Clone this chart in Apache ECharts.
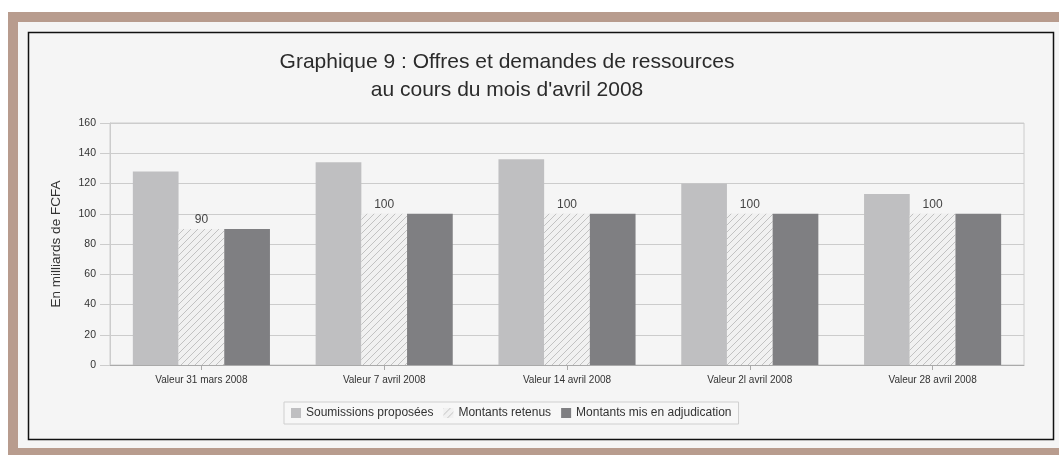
<!DOCTYPE html>
<html>
<head>
<meta charset="utf-8">
<script src="https://cdn.jsdelivr.net/npm/echarts@6/dist/echarts.min.js"></script>
<style>
  html, body { margin: 0; padding: 0; background: #ffffff; }
  #chart { width: 1059px; height: 455px; }
</style>
</head>
<body>
<div id="chart"></div>
<script>
var categories = ['Valeur 31 mars 2008', 'Valeur 7 avril 2008', 'Valeur 14 avril 2008', 'Valeur 2l avril 2008', 'Valeur 28 avril 2008'];
var soumissions = [128, 134, 136, 120, 113];
var retenus = [90, 100, 100, 100, 100];
var adjudication = [90, 100, 100, 100, 100];
var yTicks = [0, 20, 40, 60, 80, 100, 120, 140, 160];

// hatch pattern for "Montants retenus"
function makeHatch() {
  var c = document.createElement('canvas');
  c.width = 7; c.height = 7;
  var ctx = c.getContext('2d');
  ctx.fillStyle = '#f1f1f1';
  ctx.fillRect(0, 0, 7, 7);
  ctx.strokeStyle = '#c2c2c2';
  ctx.lineWidth = 1;
  ctx.beginPath();
  ctx.moveTo(0, 7); ctx.lineTo(7, 0);
  ctx.moveTo(-3.5, 3.5); ctx.lineTo(3.5, -3.5);
  ctx.moveTo(3.5, 10.5); ctx.lineTo(10.5, 3.5);
  ctx.stroke();
  return c;
}
var hatch = { image: makeHatch(), repeat: 'repeat' };

var chart = echarts.init(document.getElementById('chart'));
var font = 'Liberation Sans, Arial, sans-serif';

var option = {
  backgroundColor: '#f5f5f5',
  animation: false,
  graphic: [
    // outer brown frame
    { type: 'rect', shape: { x: 0, y: 0, width: 1059, height: 12 }, style: { fill: '#ffffff' }, silent: true },
    { type: 'rect', shape: { x: 0, y: 0, width: 8, height: 455 }, style: { fill: '#ffffff' }, silent: true },
    { type: 'rect', shape: { x: 8, y: 12, width: 1051, height: 10 }, style: { fill: '#b89c8e' }, silent: true },
    { type: 'rect', shape: { x: 8, y: 12, width: 10, height: 443 }, style: { fill: '#b89c8e' }, silent: true },
    { type: 'rect', shape: { x: 8, y: 448, width: 1051, height: 7 }, style: { fill: '#b89c8e' }, silent: true },
    // black chart border
    { type: 'rect', shape: { x: 28.5, y: 32.5, width: 1025, height: 407 }, style: { fill: 'none', stroke: '#111', lineWidth: 1.5 }, silent: true }
  ],
  title: {
    text: 'Graphique 9 : Offres et demandes de ressources\nau cours du mois d\'avril 2008',
    left: 507,
    top: 48,
    textAlign: 'center',
    padding: 0,
    textStyle: { fontFamily: font, fontSize: 21, fontWeight: 'normal', color: '#2b2b2b', lineHeight: 28 }
  },
  legend: {
    left: 284,
    top: 402,
    padding: [5, 7, 5, 7],
    icon: 'rect',
    itemWidth: 10,
    itemHeight: 10,
    itemGap: 10,
    borderColor: '#cfcfcf',
    borderWidth: 1,
    backgroundColor: '#f7f7f7',
    textStyle: { fontFamily: font, fontSize: 12, color: '#333' },
    data: ['Soumissions proposées', 'Montants retenus', 'Montants mis en adjudication']
  },
  grid: {
    left: 110,
    right: 35,
    top: 123,
    bottom: 90,
    show: true,
    borderColor: '#cccccc',
    borderWidth: 1,
    backgroundColor: 'transparent'
  },
  xAxis: {
    type: 'category',
    data: categories,
    axisLine: { lineStyle: { color: '#aaaaaa' } },
    axisTick: { show: true, alignWithLabel: true, length: 5, lineStyle: { color: '#aaaaaa' } },
    axisLabel: { fontFamily: 'Liberation Sans Narrow, Liberation Sans, Arial', fontSize: 10, color: '#333', margin: 10 }
  },
  yAxis: {
    type: 'value',
    min: yTicks[0],
    max: yTicks[yTicks.length - 1],
    interval: 20,
    name: 'En milliards de FCFA',
    nameLocation: 'middle',
    nameGap: 47,
    nameTextStyle: { fontFamily: font, fontSize: 13.5, color: '#333' },
    axisLine: { show: true, lineStyle: { color: '#cccccc' } },
    axisTick: { show: true, length: 10, lineStyle: { color: '#cccccc' } },
    axisLabel: { fontFamily: 'Liberation Sans Narrow, Liberation Sans, Arial', fontSize: 10.5, color: '#333', margin: 14 },
    splitLine: { lineStyle: { color: '#cccccc' } }
  },
  series: [
    {
      name: 'Soumissions proposées',
      type: 'bar',
      data: soumissions,
      barGap: '0%',
      barCategoryGap: '25%',
      itemStyle: { color: '#bfbfc1' }
    },
    {
      name: 'Montants retenus',
      type: 'bar',
      data: retenus,
      itemStyle: { color: hatch, borderColor: '#dddddd', borderWidth: 0 },
      label: { show: true, position: 'top', distance: 3, fontFamily: font, fontSize: 12, color: '#444' }
    },
    {
      name: 'Montants mis en adjudication',
      type: 'bar',
      data: adjudication,
      itemStyle: { color: '#7f7f82' }
    }
  ]
};
chart.setOption(option);
</script>
</body>
</html>
